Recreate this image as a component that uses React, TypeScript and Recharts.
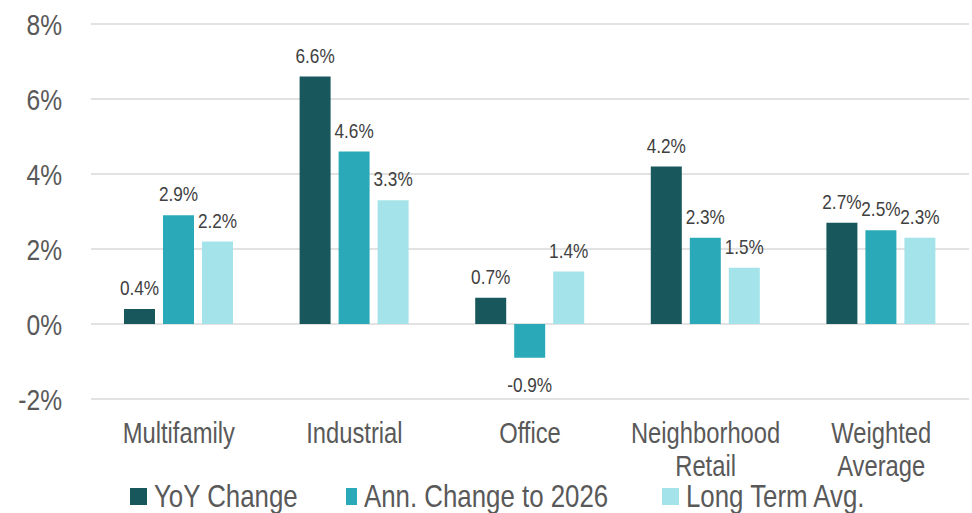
import { BarChart, Bar, XAxis, YAxis, CartesianGrid, Legend, LabelList } from 'recharts';

const CATEGORIES = ['Multifamily', 'Industrial', 'Office', 'Neighborhood Retail', 'Weighted Average'];
const YOY_CHANGE = [0.4, 6.6, 0.7, 4.2, 2.7];
const ANN_CHANGE_2026 = [2.9, 4.6, -0.9, 2.3, 2.5];
const LONG_TERM_AVG = [2.2, 3.3, 1.4, 1.5, 2.3];
const Y_TICKS = [-2, 0, 2, 4, 6, 8];

// no narrow font installed: squeeze Liberation Sans horizontally instead
const FONT = "'Liberation Sans', Arial, sans-serif";
const NARROW = 0.82;
const AXIS_TEXT = '#595959';
const LABEL_TEXT = '#404040';

const SERIES = [
  { key: 'yoy', name: 'YoY Change', color: '#18575c' },
  { key: 'ann', name: 'Ann. Change to 2026', color: '#2aaab8' },
  { key: 'lta', name: 'Long Term Avg.', color: '#a4e3ea' },
];

// legend item widths (square to next square)
const LEGEND_WIDTHS = [216, 316, 300];

const data = CATEGORIES.map((name, i) => ({
  name,
  yoy: YOY_CHANGE[i],
  ann: ANN_CHANGE_2026[i],
  lta: LONG_TERM_AVG[i],
}));

function NarrowText({
  x,
  y,
  size,
  fill,
  anchor = 'middle',
  children,
}: {
  x: number;
  y: number;
  size: number;
  fill: string;
  anchor?: 'start' | 'middle' | 'end';
  children: React.ReactNode;
}) {
  return (
    <text
      transform={`translate(${x} ${y}) scale(${NARROW} 1)`}
      textAnchor={anchor}
      fill={fill}
      fontSize={size}
      fontFamily={FONT}
    >
      {children}
    </text>
  );
}

function CategoryTick({ x, y, payload }: { x?: number; y?: number; payload?: { value: string } }) {
  const words = String(payload?.value ?? '').split(' ');
  return (
    <g>
      {words.map((w, i) => (
        <NarrowText key={i} x={x ?? 0} y={(y ?? 0) + 44 + i * 33} size={29} fill={AXIS_TEXT}>
          {w}
        </NarrowText>
      ))}
    </g>
  );
}

function PercentTick({ x, y, payload }: { x?: number; y?: number; payload?: { value: number } }) {
  return (
    <NarrowText x={x ?? 0} y={(y ?? 0) + 11} size={30} fill={AXIS_TEXT} anchor="end">
      {`${payload?.value}%`}
    </NarrowText>
  );
}

function ValueLabel(props: any) {
  const { x, y, width, height, value } = props;
  const top = Math.min(y, y + height);
  const bottom = Math.max(y, y + height);
  const ty = value < 0 ? bottom + 34 : top - 14;
  return (
    <NarrowText x={x + width / 2} y={ty} size={21} fill={LABEL_TEXT}>
      {`${value.toFixed(1)}%`}
    </NarrowText>
  );
}

function LegendContent() {
  return (
    <div style={{ display: 'flex', alignItems: 'center', height: 34, paddingLeft: 130, fontFamily: FONT }}>
      {SERIES.map((s, i) => (
        <div key={s.key} style={{ display: 'flex', alignItems: 'center', width: LEGEND_WIDTHS[i] }}>
          <span style={{ width: 17, height: 17, background: s.color, display: 'inline-block', marginRight: 7 }} />
          <span
            style={{
              fontSize: 31.5,
              color: AXIS_TEXT,
              lineHeight: '34px',
              whiteSpace: 'nowrap',
              display: 'inline-block',
              transform: `scaleX(${NARROW})`,
              transformOrigin: 'left center',
            }}
          >
            {s.name}
          </span>
        </div>
      ))}
    </div>
  );
}

export default function App() {
  return (
    <div>
      <style>{'body{margin:0;background:#fff}'}</style>
      <BarChart
        width={972}
        height={513}
        data={data}
        margin={{ top: 24, right: 3, left: 0, bottom: 0 }}
        barSize={31}
        barGap={8}
      >
        <CartesianGrid vertical={false} stroke="#d9d9d9" strokeWidth={1.5} />
        <XAxis
          dataKey="name"
          axisLine={false}
          tickLine={false}
          tickSize={0}
          tickMargin={0}
          height={80}
          interval={0}
          tick={<CategoryTick />}
        />
        <YAxis
          width={91}
          domain={[-2, 8]}
          ticks={Y_TICKS}
          axisLine={false}
          tickLine={false}
          tickSize={0}
          tickMargin={29}
          tick={<PercentTick />}
        />
        <Legend
          verticalAlign="bottom"
          height={34}
          wrapperStyle={{ left: 0, bottom: 0, width: 972 }}
          content={<LegendContent />}
        />
        {SERIES.map((s) => (
          <Bar key={s.key} dataKey={s.key} name={s.name} fill={s.color} isAnimationActive={false}>
            <LabelList dataKey={s.key} content={<ValueLabel />} />
          </Bar>
        ))}
      </BarChart>
    </div>
  );
}
